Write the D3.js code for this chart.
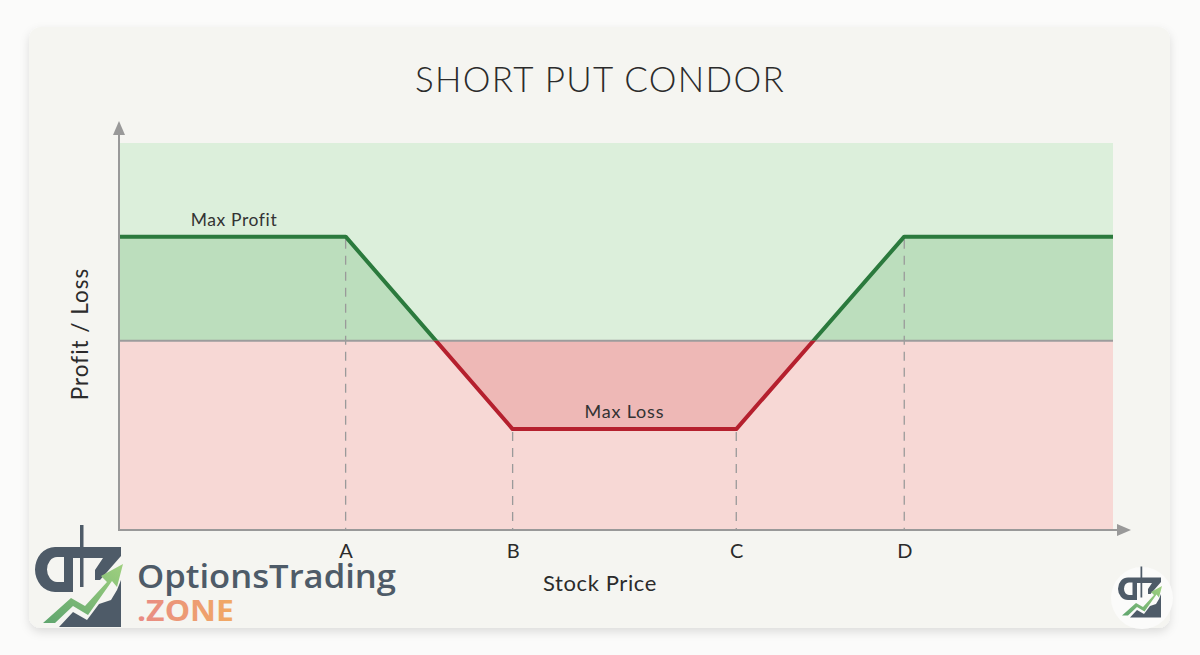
<!DOCTYPE html>
<html>
<head>
<meta charset="utf-8">
<script src="https://cdn.jsdelivr.net/npm/d3@7"></script>
<style>
  html, body { margin: 0; padding: 0; background: #fbfbfa; }
  svg { display: block; }
</style>
</head>
<body>
<svg id="chart" width="1200" height="655"></svg>
<script>
// ---------------- DATA ----------------
const title = "SHORT PUT CONDOR";
const strikeLabels = ["A", "B", "C", "D"];
const strikes = [22.8, 39.6, 62.1, 79.0];          // stock price at strikes
const priceDomain = [0, 100];
const pnlDomain = [-1.82, 1.9];
const payoffX = [0, 22.8, 39.6, 62.1, 79.0, 100];   // payoff breakpoints
const payoffY = [1, 1, -0.85, -0.85, 1, 1];          // profit / loss
const maxProfitLabel = "Max Profit";
const maxLossLabel = "Max Loss";
const xAxisTitle = "Stock Price";
const yAxisTitle = "Profit / Loss";

// ---------------- LAYOUT ----------------
const svg = d3.select("#chart");
const plot = { left: 119, right: 1113, top: 143, bottom: 530 };
const x = d3.scaleLinear().domain(priceDomain).range([plot.left, plot.right]);
const y = d3.scaleLinear().domain(pnlDomain).range([plot.bottom, plot.top]);
const pts = payoffX.map((v, i) => ({ x: v, y: payoffY[i] }));
const font = "Lato, sans-serif";

const defs = svg.append("defs");
const f = defs.append("filter").attr("id", "shadow").attr("x", "-5%").attr("y", "-5%").attr("width", "110%").attr("height", "115%");
f.append("feDropShadow").attr("dx", 0).attr("dy", 4).attr("stdDeviation", 5).attr("flood-color", "#000").attr("flood-opacity", 0.12);

const zg = defs.append("linearGradient").attr("id", "zoneGrad").attr("x1", 0).attr("x2", 1).attr("y1", 0).attr("y2", 0);
zg.append("stop").attr("offset", "0%").attr("stop-color", "#e88a86");
zg.append("stop").attr("offset", "100%").attr("stop-color", "#f1aa63");

const ag = defs.append("linearGradient").attr("id", "arrowGrad").attr("x1", 0).attr("x2", 1).attr("y1", 1).attr("y2", 0);
ag.append("stop").attr("offset", "0%").attr("stop-color", "#5fa56e");
ag.append("stop").attr("offset", "100%").attr("stop-color", "#9fd07f");

// clip paths above / below zero
defs.append("clipPath").attr("id", "clipAbove").append("rect")
  .attr("x", plot.left).attr("y", plot.top).attr("width", plot.right - plot.left).attr("height", y(0) - plot.top);
defs.append("clipPath").attr("id", "clipBelow").append("rect")
  .attr("x", plot.left).attr("y", y(0)).attr("width", plot.right - plot.left).attr("height", plot.bottom - y(0));

// card
svg.append("rect").attr("x", 29).attr("y", 27).attr("width", 1141).attr("height", 601)
  .attr("rx", 12).attr("fill", "#f5f5f1").attr("filter", "url(#shadow)");

// title
svg.append("text").attr("x", 600).attr("y", 92).attr("text-anchor", "middle")
  .attr("font-family", font).attr("font-weight", 300).attr("font-size", 35)
  .attr("fill", "#2b2b2b").attr("letter-spacing", 1.3).text(title);

// background zones
svg.append("rect").attr("x", plot.left).attr("y", plot.top).attr("width", plot.right - plot.left)
  .attr("height", y(0) - plot.top).attr("fill", "#dcefdb");
svg.append("rect").attr("x", plot.left).attr("y", y(0)).attr("width", plot.right - plot.left)
  .attr("height", plot.bottom - y(0)).attr("fill", "#f7d8d5");

// payoff fills
const area = d3.area().x(d => x(d.x)).y0(y(0)).y1(d => y(d.y));
svg.append("path").datum(pts).attr("d", area).attr("fill", "#bcdebd").attr("clip-path", "url(#clipAbove)");
svg.append("path").datum(pts).attr("d", area).attr("fill", "#eeb8b6").attr("clip-path", "url(#clipBelow)");

// dashed strike lines
svg.append("g").selectAll("line").data(strikes).join("line")
  .attr("x1", d => x(d)).attr("x2", d => x(d))
  .attr("y1", (d, i) => y(payoffY[i + 1]) + 3).attr("y2", plot.bottom)
  .attr("stroke", "#9a9a9a").attr("stroke-width", 1.3).attr("stroke-dasharray", "9,7");

// zero line
svg.append("line").attr("x1", plot.left).attr("x2", plot.right).attr("y1", y(0)).attr("y2", y(0))
  .attr("stroke", "#9c9c9c").attr("stroke-width", 2);

// payoff line
const line = d3.line().x(d => x(d.x)).y(d => y(d.y));
svg.append("path").datum(pts).attr("d", line).attr("fill", "none").attr("stroke", "#2b7a3d")
  .attr("stroke-width", 4).attr("stroke-linejoin", "round").attr("clip-path", "url(#clipAbove)");
svg.append("path").datum(pts).attr("d", line).attr("fill", "none").attr("stroke", "#b5202e")
  .attr("stroke-width", 4).attr("stroke-linejoin", "round").attr("clip-path", "url(#clipBelow)");

// axes
const axisColor = "#999";
svg.append("line").attr("x1", plot.left).attr("x2", plot.left).attr("y1", plot.bottom + 1).attr("y2", 130)
  .attr("stroke", axisColor).attr("stroke-width", 2);
svg.append("path").attr("d", `M${plot.left},121 L${plot.left - 6},135 L${plot.left + 6},135 Z`).attr("fill", axisColor);
svg.append("line").attr("x1", plot.left - 1).attr("x2", 1122).attr("y1", plot.bottom).attr("y2", plot.bottom)
  .attr("stroke", axisColor).attr("stroke-width", 2);
svg.append("path").attr("d", `M1131,${plot.bottom} L1117,${plot.bottom - 6} L1117,${plot.bottom + 6} Z`).attr("fill", axisColor);

// tick labels
const xAxis = d3.axisBottom(x).tickValues(strikes).tickFormat((d, i) => strikeLabels[i]).tickSize(0).tickPadding(14);
const gx = svg.append("g").attr("transform", `translate(0,${plot.bottom})`).call(xAxis);
gx.select(".domain").remove();
gx.selectAll("text").attr("font-family", font).attr("font-size", 20).attr("fill", "#2b2b2b");

// labels
svg.append("text").attr("x", 234).attr("y", 226).attr("text-anchor", "middle")
  .attr("font-family", font).attr("font-size", 17.5).attr("letter-spacing", 0.6).attr("fill", "#333").text(maxProfitLabel);
svg.append("text").attr("x", x((strikes[1] + strikes[2]) / 2)).attr("y", 418).attr("text-anchor", "middle")
  .attr("font-family", font).attr("font-size", 18).attr("letter-spacing", 0.8).attr("fill", "#333").text(maxLossLabel);
svg.append("text").attr("x", 600).attr("y", 591).attr("text-anchor", "middle")
  .attr("font-family", font).attr("font-size", 22).attr("letter-spacing", 0.6).attr("fill", "#2b2b2b").text(xAxisTitle);
svg.append("text").attr("transform", "translate(88,334) rotate(-90)").attr("text-anchor", "middle")
  .attr("font-family", font).attr("font-size", 22.5).attr("letter-spacing", 1).attr("fill", "#2b2b2b").text(yAxisTitle);

// ---------------- LOGO ----------------
function drawIcon(g) {
  const dark = "#4e5b68";
  // stem
  g.append("rect").attr("x", 47).attr("y", 5).attr("width", 3.5).attr("height", 62).attr("fill", dark);
  // O shape
  g.append("path").attr("fill", dark).attr("fill-rule", "evenodd")
    .attr("d", "M22,27 L40,27 L40,72 L22,72 A20,22.5 0 0 1 22,27 Z M24,37 A10,12.5 0 0 0 24,62 L31,62 L31,37 Z");
  // top bar + Z
  g.append("path").attr("fill", dark)
    .attr("d", "M40,27 L88,27 L88,36 L67,60 L62,60 L62,50 L70,38 L40,38 Z");
  // base block with bars
  g.append("path").attr("fill", dark)
    .attr("d", "M26,107 L40,92 L54,100 L66,84 L78,80 L84,70 L88,60 L88,107 Z");
  // arrow
  g.append("path").attr("fill", "url(#arrowGrad)")
    .attr("d", "M10,103 L38,78 L52,86 L74,62 L68,56 L90,44 L84,67 L79,61 L55,95 L40,86 L22,103 Z");
}
const icon = svg.append("g").attr("transform", "translate(33,520)");
drawIcon(icon);

svg.append("text").attr("x", 137).attr("y", 588)
  .attr("font-family", "'Open Sans', sans-serif").attr("font-weight", 600).attr("font-size", 33)
  .attr("textLength", 259).attr("lengthAdjust", "spacingAndGlyphs")
  .attr("fill", "#4e5b68").text("OptionsTrading");
svg.append("text").attr("x", 137).attr("y", 621)
  .attr("font-family", "'Open Sans', sans-serif").attr("font-weight", 700).attr("font-size", 29)
  .attr("textLength", 97).attr("lengthAdjust", "spacingAndGlyphs")
  .attr("fill", "url(#zoneGrad)").text(".ZONE");

// small logo bottom-right
svg.append("circle").attr("cx", 1142).attr("cy", 598).attr("r", 31).attr("fill", "#fbfbfa");
const icon2 = svg.append("g").attr("transform", "translate(1117,564) scale(0.5)");
drawIcon(icon2);
</script>
</body>
</html>
